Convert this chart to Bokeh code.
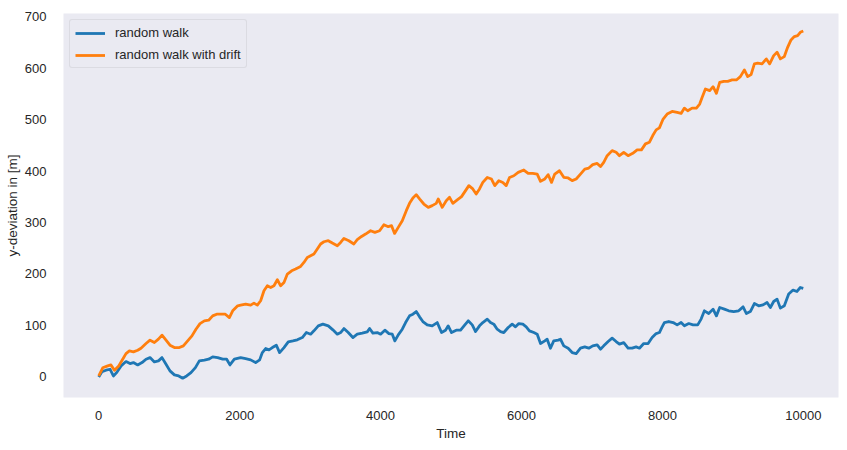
from bokeh.plotting import figure
from bokeh.models import Range1d, FixedTicker, Legend, LegendItem
from bokeh.embed import file_html
from bokeh.resources import INLINE

# ---- data ----
walk_t = [0, 47, 104, 160, 208, 255, 317, 387, 444, 492, 553, 614, 671, 728, 790, 847, 898, 955,
          1011, 1074, 1135, 1191, 1248, 1309, 1372, 1428, 1499, 1560, 1617, 1688, 1759, 1816, 1862, 1925,
          2014, 2085, 2156, 2227, 2284, 2322, 2369, 2416, 2464, 2521, 2567, 2629, 2690, 2756, 2818, 2889,
          2946, 3007, 3054, 3116, 3181, 3258, 3323, 3386, 3433, 3480, 3541, 3607, 3669, 3740, 3811, 3844,
          3891, 3953, 4000, 4061, 4118, 4166, 4203, 4251, 4308, 4355, 4411, 4459, 4506, 4553, 4600, 4662,
          4733, 4804, 4865, 4922, 4960, 5007, 5074, 5135, 5196, 5244, 5301, 5348, 5404, 5451, 5514, 5560,
          5607, 5655, 5702, 5749, 5811, 5868, 5915, 5962, 6019, 6067, 6113, 6175, 6223, 6270, 6331, 6364,
          6411, 6458, 6521, 6553, 6600, 6662, 6719, 6776, 6837, 6898, 6955, 7011, 7074, 7121, 7167, 7230,
          7286, 7343, 7390, 7451, 7513, 7570, 7627, 7674, 7735, 7797, 7854, 7911, 7957, 7996, 8028, 8090,
          8152, 8209, 8265, 8312, 8374, 8435, 8501, 8549, 8596, 8657, 8719, 8766, 8813, 8879, 8941, 9012,
          9082, 9145, 9191, 9248, 9305, 9366, 9428, 9485, 9532, 9579, 9627, 9674, 9730, 9792, 9854, 9910,
          9957, 9999]
walk_y = [0, 10.4, 13, 14.9, 1.9, 8.4, 21.4, 29.8, 25.9, 27.8, 23.3, 27.8, 34.4, 37.5, 29.2, 31.1, 37.5, 24.7,
          11.7, 3.9, 1.9, -2.5, 1.9, 8.4, 18.1, 31.1, 32.5, 34.4, 38.9, 37.5, 34.4, 34.4, 23.3, 34.4,
          37.5, 35.6, 33.1, 27.8, 33.1, 47.3, 55.1, 52.5, 57, 61.6, 47.3, 57, 68.1, 70, 72, 76.5,
          86.2, 83, 89.5, 99.2, 102.5, 99.2, 91.4, 83, 86.2, 94, 86.2, 76.5, 83, 85, 87.5, 94,
          85, 86.2, 83, 90.8, 84.2, 83, 70, 81.7, 92.7, 105.6, 118.6, 121.9, 127, 116.7, 107.6, 101.1,
          99.2, 105.6, 86.2, 90.8, 99.2, 86.2, 90.8, 90.8, 101.1, 108.9, 101.1, 88.1, 99.2, 105.6, 112.3, 105.6,
          102.5, 92.7, 88.1, 86.2, 95.9, 102.5, 97.3, 103.7, 102.5, 97.3, 89.5, 86.2, 83, 64.8, 70, 73.3,
          55.8, 70, 71.4, 73.3, 60.3, 55.8, 47.3, 45.3, 55.8, 58.3, 55.8, 60.3, 62.2, 53.8, 60.3, 68.7,
          75.3, 68.7, 63.6, 66.7, 55.8, 55.8, 58.3, 55.8, 64.8, 64.8, 76.5, 84.2, 86.2, 97.3, 105.6, 107.6,
          105.6, 101.1, 105.6, 99.2, 103.7, 101.1, 101.1, 112.3, 128.4, 123.2, 131.7, 118.6, 134.8, 131.7, 128.4, 127,
          128.4, 136.1, 123.2, 127, 142.6, 138.1, 140, 144.5, 134.8, 146.5, 151.1, 133.6, 138.1, 160.9, 168.7, 166,
          173.7, 172]

drift_t = [0, 57, 128, 174, 223, 284, 340, 387, 435, 492, 553, 600, 671, 728, 790, 847, 898, 955,
           1011, 1074, 1145, 1201, 1262, 1323, 1380, 1437, 1499, 1560, 1617, 1674, 1735, 1797, 1854, 1901,
           1972, 2014, 2085, 2156, 2203, 2251, 2298, 2345, 2393, 2440, 2487, 2535, 2582, 2629, 2677, 2738,
           2794, 2865, 2912, 2960, 3007, 3054, 3102, 3149, 3196, 3258, 3315, 3386, 3433, 3480, 3550, 3621,
           3669, 3730, 3787, 3858, 3919, 3986, 4047, 4109, 4156, 4199, 4251, 4308, 4365, 4411, 4459, 4506,
           4553, 4614, 4677, 4733, 4790, 4818, 4875, 4932, 4979, 5026, 5088, 5149, 5206, 5253, 5309, 5357,
           5404, 5451, 5514, 5574, 5621, 5678, 5735, 5783, 5830, 5891, 5953, 6033, 6095, 6160, 6223, 6270,
           6331, 6379, 6426, 6472, 6539, 6600, 6662, 6719, 6776, 6837, 6898, 6955, 7011, 7074, 7121, 7167,
           7216, 7286, 7343, 7390, 7451, 7513, 7579, 7641, 7702, 7759, 7816, 7863, 7911, 7957, 8010, 8067,
           8138, 8209, 8265, 8312, 8359, 8421, 8482, 8529, 8563, 8610, 8671, 8719, 8766, 8813, 8870, 8926,
           8989, 9050, 9106, 9163, 9210, 9258, 9305, 9352, 9414, 9475, 9522, 9579, 9627, 9674, 9730, 9777,
           9825, 9872, 9919, 9957, 9999]
drift_y = [2, 17.7, 21.4, 23.3, 13, 21.4, 34.4, 45.3, 50.6, 48.6, 51.9, 55.8, 64.8, 71.4, 66.8, 73.3, 81.1, 71.4,
           61.6, 57, 57, 60.3, 70, 79.7, 92.7, 103.6, 108.9, 110.2, 118.5, 121.8, 121.8, 121.8, 115.3, 128.4,
           138.1, 139.4, 141.4, 139.4, 143.3, 139.4, 147.9, 167.3, 177, 173.7, 177, 188.7, 177, 183.5, 199.8, 206.2,
           209.5, 214.6, 222.4, 232.1, 235.4, 238.7, 248.4, 258.2, 262.6, 264.6, 260, 254.9, 261.3, 269.1, 264.6, 258.2,
           266.5, 272.9, 277.5, 283.9, 280.7, 283.9, 295.7, 291.8, 293.8, 278.8, 290.5, 303.5, 323, 337.2, 347.6, 354.1,
           345.7, 335.9, 329.4, 332.7, 337.2, 345.7, 329.4, 342.4, 348.9, 337.2, 343.8, 350.2, 361.9, 371.6, 365.2, 355.4,
           365.2, 377.8, 387.5, 384.4, 371.6, 381.1, 377.8, 371.6, 387.5, 390.8, 397.3, 401.9, 395.3, 395.3, 394.1, 380,
           384.5, 392.8, 377.9, 394.1, 400.5, 387.7, 386.5, 381.3, 384.5, 394.1, 403.8, 405.8, 412.3, 414.8, 408.6, 416.9,
           429.8, 439.6, 436.3, 429.8, 436.3, 429.8, 434.4, 441.1, 441.1, 452.7, 455.9, 468.9, 479.9, 483.8, 501, 510.7,
           515.8, 513.8, 511.9, 522.2, 517.1, 522.2, 522.2, 530, 543, 559.3, 556.1, 563.8, 550.9, 572.3, 574.2, 574.2,
           576.9, 576.9, 583.4, 596.3, 583.4, 587.3, 608.1, 609.4, 608.1, 617.8, 608.1, 624.2, 630.9, 617.8, 622.3, 640.3,
           654.7, 661.1, 663, 669.5, 672]

x_ticks = [0, 2000, 4000, 6000, 8000, 10000]
y_ticks = [0, 100, 200, 300, 400, 500, 600, 700]
series_labels = ["random walk", "random walk with drift"]
x_label = "Time"
y_label = "y-deviation in [m]"

FONT = "Liberation Sans"
TXT = "#262626"
BG = "#EAEAF2"

p = figure(width=847, height=450, output_backend="svg", toolbar_location=None,
           x_range=Range1d(-500, 10499), y_range=Range1d(-40, 706),
           min_border_left=63, min_border_right=9, min_border_top=13, min_border_bottom=53)
p.background_fill_color = BG
p.border_fill_color = "white"
p.outline_line_color = None
p.grid.visible = False

r1 = p.line(walk_t, walk_y, line_color="#1f77b4", line_width=2.8, line_join="round")
r2 = p.line(drift_t, drift_y, line_color="#ff7f0e", line_width=2.8, line_join="round")

for ax in (p.xaxis[0], p.yaxis[0]):
    ax.axis_line_color = None
    ax.major_tick_line_color = None
    ax.minor_tick_line_color = None
    ax.major_label_text_font = FONT
    ax.major_label_text_font_size = "13px"
    ax.major_label_text_color = TXT
    ax.axis_label_text_font = FONT
    ax.axis_label_text_font_size = "13.5px"
    ax.axis_label_text_font_style = "normal"
    ax.axis_label_text_color = TXT

p.xaxis.ticker = FixedTicker(ticks=x_ticks)
p.yaxis.ticker = FixedTicker(ticks=y_ticks)
p.xaxis.axis_label = x_label
p.yaxis.axis_label = y_label
p.xaxis.major_label_standoff = 7
p.yaxis.major_label_standoff = 11
p.xaxis.axis_label_standoff = 3
p.yaxis.axis_label_standoff = 2

legend = Legend(items=[LegendItem(label=series_labels[0], renderers=[r1]),
                       LegendItem(label=series_labels[1], renderers=[r2])],
                location="top_left", margin=6, padding=5, spacing=7,
                glyph_width=30, glyph_height=14, label_height=14, label_standoff=10,
                label_text_font=FONT, label_text_font_size="13px", label_text_color=TXT,
                background_fill_color=BG, background_fill_alpha=1.0,
                border_line_color="#CCCCD2", border_line_width=1, border_radius=3)
p.add_layout(legend)

open("out.html", "w").write(file_html(p, INLINE))
